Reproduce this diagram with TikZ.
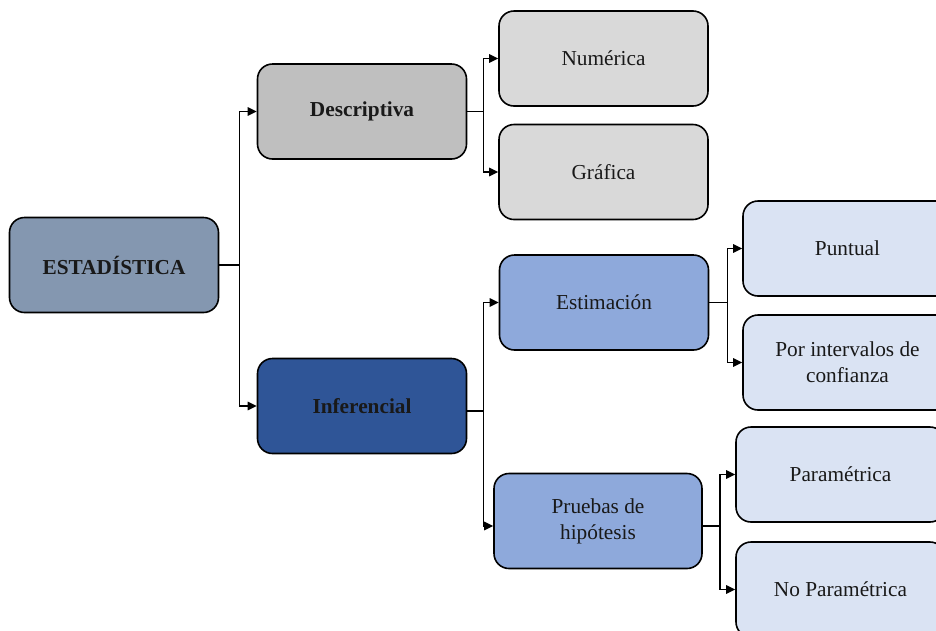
\documentclass[tikz,border=0pt]{standalone}
\usepackage{fontspec}
\setmainfont{Liberation Serif}
\usetikzlibrary{arrows.meta}
\definecolor{cRoot}{HTML}{8497B0}
\definecolor{cDesc}{HTML}{BFBFBF}
\definecolor{cDescSub}{HTML}{D9D9D9}
\definecolor{cInf}{HTML}{2F5597}
\definecolor{cInfMid}{HTML}{8EA9DB}
\definecolor{cInfSub}{HTML}{DAE3F3}
\begin{document}
\begin{tikzpicture}[x=1pt,y=-1pt,
  box/.style={draw=black, line width=1.6pt, rounded corners=15pt,
    minimum width=209pt, minimum height=95pt, align=center, inner sep=0pt,
    font=\fontsize{21.3}{26}\selectfont, text=black!90},
  bold/.style={font=\fontsize{21.3}{26}\selectfont\bfseries},
  arr/.style={line width=1.5pt, -{Triangle[length=9pt,width=8.5pt]}}]
\useasboundingbox (0,0) rectangle (936,630);
\clip (0,0) rectangle (936,630);
\node[box, bold, fill=cRoot] (root) at (114,265) {ESTADÍSTICA};
\node[box, bold, fill=cDesc] (desc) at (362,111.5) {Descriptiva};
\node[box, bold, fill=cInf] (inf) at (362,406) {Inferencial};
\node[box, fill=cDescSub] (num) at (603.5,58.5) {Numérica};
\node[box, fill=cDescSub] (graf) at (603.5,172) {Gráfica};
\node[box, fill=cInfMid] (estim) at (604,302.5) {Estimación};
\node[box, fill=cInfMid, minimum width=208pt] (prue) at (598,521) {Pruebas de\\hipótesis};
\node[box, fill=cInfSub] (punt) at (847.5,248.5) {Puntual};
\node[box, fill=cInfSub] (porint) at (847.5,362.5) {Por intervalos de\\confianza};
\node[box, fill=cInfSub] (param) at (840.5,474.5) {Paramétrica};
\node[box, fill=cInfSub] (noparam) at (840.5,589.5) {No Paramétrica};
% connectors
\draw[arr] (root.east) -- ++(20,0) |- (desc.west);
\draw[arr] (root.east) -- ++(20,0) |- (inf.west);
\draw[arr] (desc.east) -- ++(16,0) |- (num.west);
\draw[arr] (desc.east) -- ++(16,0) |- (graf.west);
\draw[arr] ([yshift=-5pt]inf.east) -- ++(16,0) |- (estim.west);
\draw[arr] ([yshift=-5pt]inf.east) -- ++(16,0) |- ([yshift=-5pt]prue.west);
\draw[arr] (estim.east) -- ++(18,0) |- (punt.west);
\draw[arr] (estim.east) -- ++(18,0) |- (porint.west);
\draw[arr] ([yshift=-5pt]prue.east) -- ++(17,0) |- (param.west);
\draw[arr] ([yshift=-5pt]prue.east) -- ++(17,0) |- (noparam.west);
\end{tikzpicture}
\end{document}
